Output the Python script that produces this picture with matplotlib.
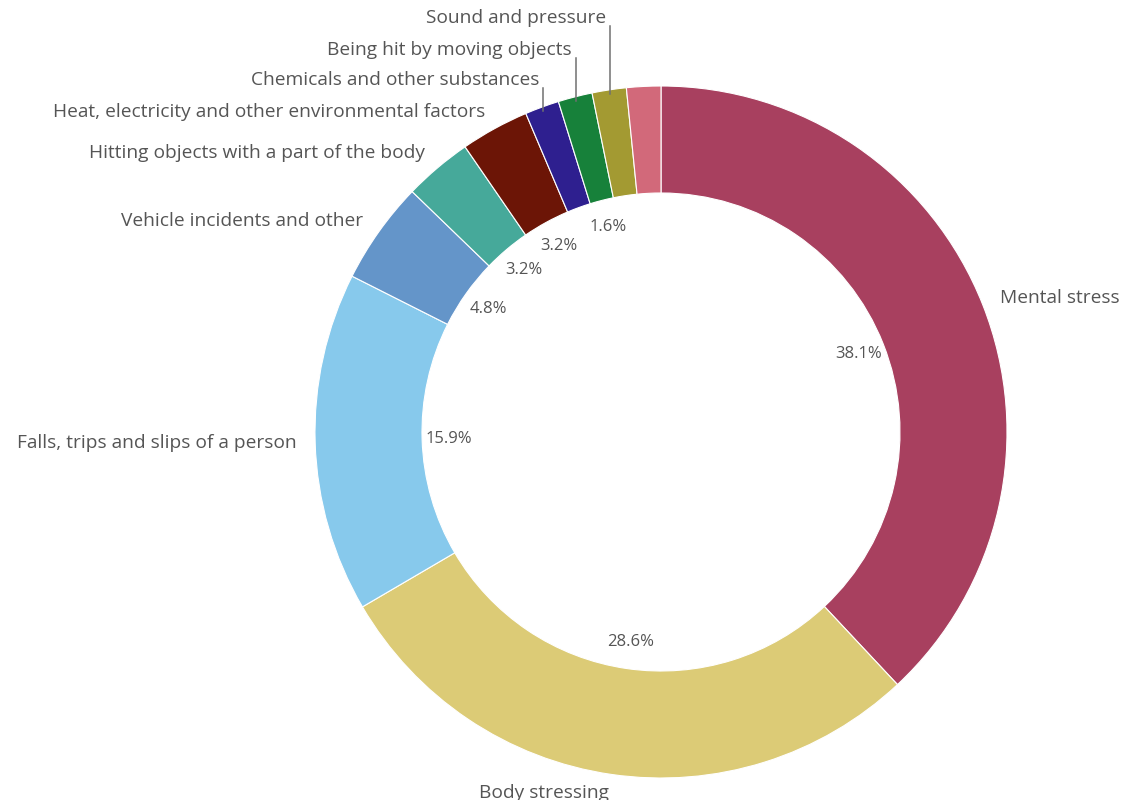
import numpy as np
import matplotlib.pyplot as plt

# injury mechanism shares (%), clockwise from 12 o'clock
categories = [
    "Mental stress",
    "Body stressing",
    "Falls, trips and slips of a person",
    "Vehicle incidents and other",
    "Hitting objects with a part of the body",
    "Heat, electricity and other environmental factors",
    "Chemicals and other substances",
    "Being hit by moving objects",
    "Sound and pressure",
    "Other",
]
shares = [38.1, 28.6, 15.9, 4.8, 3.2, 3.2, 1.6, 1.6, 1.6, 1.6]
show_pct = [True, True, True, True, True, True, False, True, False, False]
colors = ["#a8405f", "#dccb76", "#87c9ec", "#6495c9", "#46a99a",
          "#6c1506", "#2e1f8f", "#17813a", "#a39a32", "#d2697a"]

# small slices whose names are lifted above the ring with a leader line
lifted = {
    "Chemicals and other substances": 720,
    "Being hit by moving objects": 750,
    "Sound and pressure": 782,
}

W, H = 1125, 800
cx, cy = 661, 368
R = 346
text_col = "#555555"
plt.rcParams["font.family"] = ["Open Sans", "DejaVu Sans"]

fig = plt.figure(figsize=(W / 100, H / 100), dpi=100)
ax = fig.add_axes([0, 0, 1, 1])
wedges, _ = ax.pie(shares, colors=colors, startangle=90, counterclock=False,
                   center=(cx, cy), radius=R,
                   wedgeprops=dict(width=107, edgecolor="white", linewidth=0.8))
ax.set_xlim(0, W)
ax.set_ylim(0, H)
ax.set_aspect("equal")
ax.axis("off")

for w, name, val, pct in zip(wedges, categories, shares, show_pct):
    a = np.deg2rad((w.theta1 + w.theta2) / 2)
    ca, sa = np.cos(a), np.sin(a)

    if pct:
        ax.text(cx + 212 * ca, cy + 212 * sa, f"{val:.1f}%", ha="center",
                va="center", fontsize=12, color=text_col)

    if name == "Other":
        continue
    if name in lifted:
        xo, yo = cx + (R - 4) * ca, cy + (R - 4) * sa
        ty = lifted[name]
        ax.plot([xo, xo], [yo, ty - 8], color="#707070", lw=1.1)
        ax.text(xo - 4, ty, name, ha="right", va="center",
                fontsize=13.8, color=text_col)
    else:
        ax.text(cx + 365 * ca, cy + 365 * sa, name,
                ha="left" if ca > 0 else "right", va="center",
                fontsize=13.8, color=text_col)

fig.savefig("out.png", dpi=100, facecolor="white")
